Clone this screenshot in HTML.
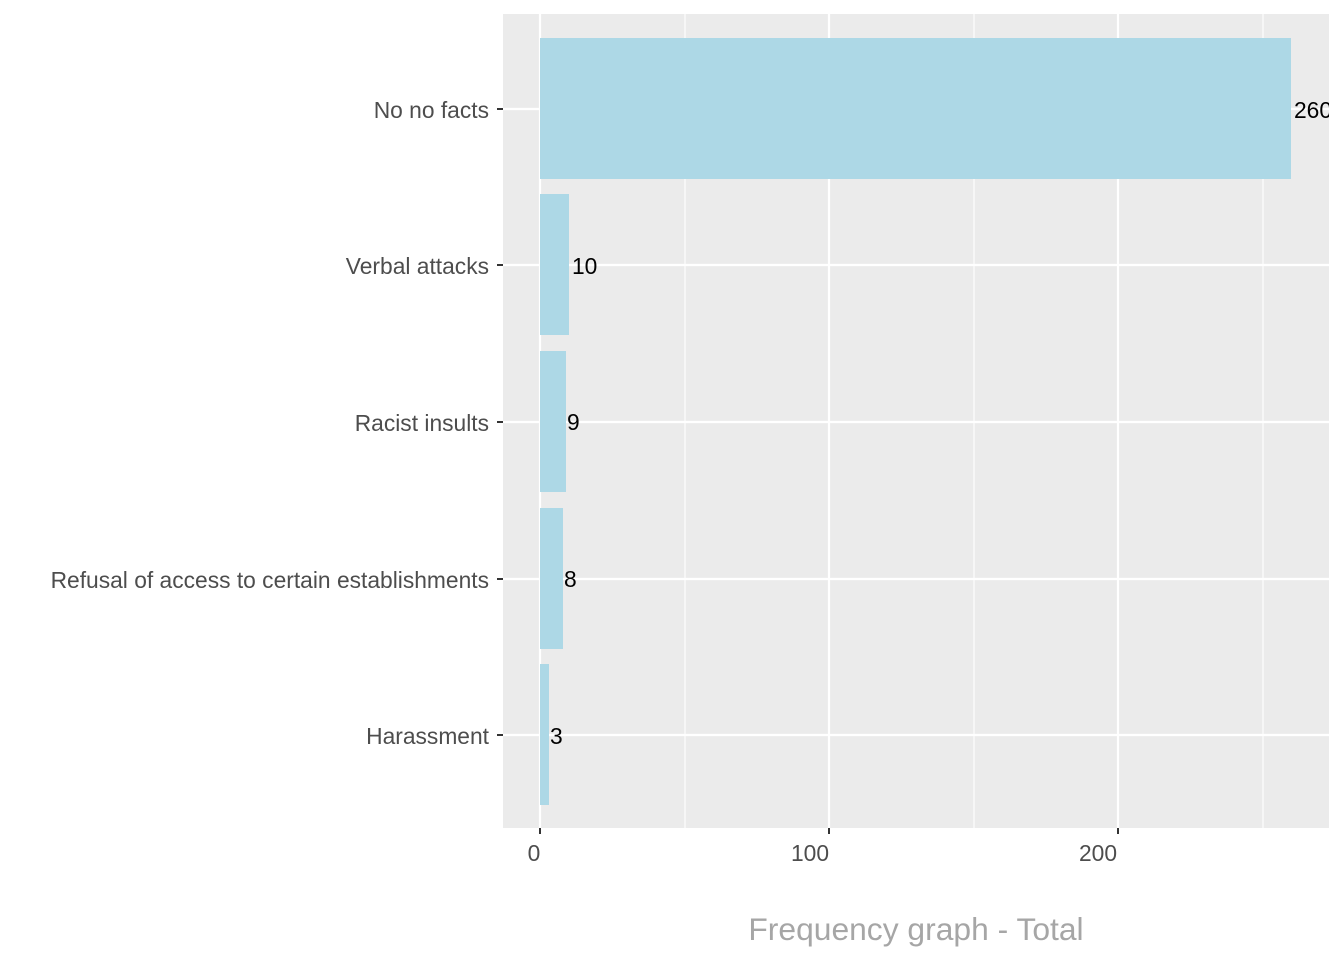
<!DOCTYPE html>
<html><head><meta charset="utf-8"><style>html,body{margin:0;padding:0;background:#fff}svg{display:block}</style></head>
<body>
<svg width="1344" height="960" xmlns="http://www.w3.org/2000/svg" font-family="Liberation Sans, Arial, sans-serif">
<rect width="1344" height="960" fill="#fff"/>
<defs><clipPath id="c"><rect x="503" y="14" width="826" height="814"/></clipPath></defs>
<g clip-path="url(#c)">
<rect x="503" y="14" width="826" height="814" fill="#ebebeb"/>
<g stroke="#fff" stroke-width="1.1">
<line x1="685" y1="14" x2="685" y2="828"/><line x1="974" y1="14" x2="974" y2="828"/><line x1="1263" y1="14" x2="1263" y2="828"/>
</g>
<g stroke="#fff" stroke-width="2.2">
<line x1="540" y1="14" x2="540" y2="828"/><line x1="829" y1="14" x2="829" y2="828"/><line x1="1118" y1="14" x2="1118" y2="828"/>
<line x1="503" y1="109" x2="1329" y2="109"/><line x1="503" y1="265" x2="1329" y2="265"/><line x1="503" y1="422" x2="1329" y2="422"/><line x1="503" y1="579" x2="1329" y2="579"/><line x1="503" y1="735" x2="1329" y2="735"/>
</g>
<g fill="#add8e6">
<rect x="540" y="38" width="751" height="141"/>
<rect x="540" y="194" width="29" height="141"/>
<rect x="540" y="351" width="26" height="141"/>
<rect x="540" y="508" width="23" height="141"/>
<rect x="540" y="664" width="9" height="141"/>
</g>
<g font-size="22.8" fill="#000">
<text x="1294" y="118">260</text>
<text x="572" y="274">10</text>
<text x="567" y="430">9</text>
<text x="564" y="587">8</text>
<text x="550" y="744">3</text>
</g>
</g>
<g stroke="#333" stroke-width="2">
<line x1="497" y1="109" x2="503" y2="109"/><line x1="497" y1="265" x2="503" y2="265"/><line x1="497" y1="422" x2="503" y2="422"/><line x1="497" y1="579" x2="503" y2="579"/><line x1="497" y1="735" x2="503" y2="735"/>
<line x1="540" y1="828" x2="540" y2="834"/><line x1="829" y1="828" x2="829" y2="834"/><line x1="1118" y1="828" x2="1118" y2="834"/>
</g>
<g font-size="22.8" fill="#4d4d4d" text-anchor="end">
<text x="489" y="118">No no facts</text>
<text x="489" y="274">Verbal attacks</text>
<text x="489" y="431">Racist insults</text>
<text x="489" y="588">Refusal of access to certain establishments</text>
<text x="489" y="744">Harassment</text>
</g>
<g font-size="22.8" fill="#4d4d4d" text-anchor="middle">
<text x="534" y="861">0</text>
<text x="810" y="861">100</text>
<text x="1098" y="861">200</text>
</g>
<text x="916" y="940" font-size="31.8" fill="#a6a6a6" text-anchor="middle">Frequency graph - Total</text>
</svg>
</body></html>
